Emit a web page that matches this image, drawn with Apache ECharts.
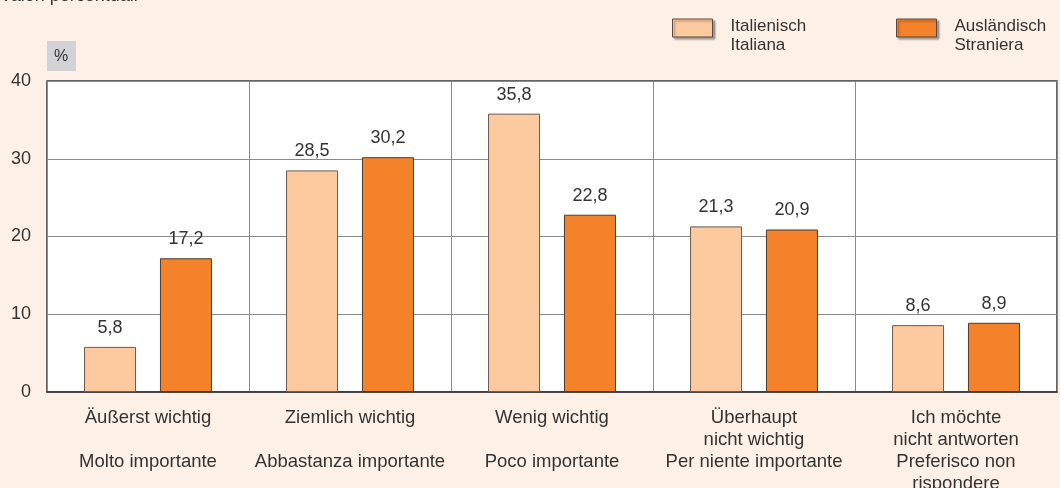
<!DOCTYPE html>
<html>
<head>
<meta charset="utf-8">
<script src="https://cdn.jsdelivr.net/npm/echarts@6/dist/echarts.min.js"></script>
<style>
  html, body { margin: 0; padding: 0; background: #fdf0e6; }
  #chart { width: 1060px; height: 488px; }
</style>
</head>
<body>
<div id="chart"></div>
<script>
// categories (German / Italian)
const categories = [
  'Äußerst wichtig\n\nMolto importante',
  'Ziemlich wichtig\n\nAbbastanza importante',
  'Wenig wichtig\n\nPoco importante',
  'Überhaupt\nnicht wichtig\nPer niente importante',
  'Ich möchte\nnicht antworten\nPreferisco non\nrispondere'
];
const italianValues = [5.8, 28.5, 35.8, 21.3, 8.6];
const foreignValues = [17.2, 30.2, 22.8, 20.9, 8.9];
const seriesNames = ['Italienisch\nItaliana', 'Ausländisch\nStraniera'];
const yTicks = { min: 0, max: 40, interval: 10 };

const FONT = 'Liberation Sans, Arial, sans-serif';
const TXT = '#333333';

const chart = echarts.init(document.getElementById('chart'));

const fmt = p => String(p.value).replace('.', ',');

function legendAt(left, name) {
  return {
    left: left,
    top: 4,
    padding: 0,
    data: [name],
    itemWidth: 40,
    itemHeight: 18,
    itemGap: 0,
    icon: 'rect',
    selectedMode: false,
    itemStyle: {
      borderColor: '#5a4a40',
      borderWidth: 1,
      shadowColor: 'rgba(0,0,0,0.35)',
      shadowBlur: 2,
      shadowOffsetX: 2,
      shadowOffsetY: 2
    },
    // blank first line pushes the two text lines below the swatch centre
    formatter: n => '{s| }\n' + n.split('\n').map(l => '{t|' + l + '}').join('\n'),
    textStyle: {
      fontFamily: FONT,
      color: TXT,
      padding: [0, 0, 0, 13],
      rich: {
        s: { fontSize: 10, lineHeight: 15 },
        t: { fontSize: 17, lineHeight: 19, color: TXT, fontFamily: FONT }
      }
    }
  };
}

chart.setOption({
  backgroundColor: '#fdf0e6',
  animation: false,
  textStyle: { fontFamily: FONT },
  legend: [legendAt(672, seriesNames[0]), legendAt(896, seriesNames[1])],
  graphic: [
    {
      type: 'text',
      left: 0,
      top: -13,
      style: { text: 'Valori percentuali', font: '18px ' + FONT, fill: TXT }
    },
    {
      type: 'rect',
      left: 47,
      top: 41,
      shape: { width: 29, height: 30 },
      style: { fill: '#d3d3d5' }
    },
    {
      type: 'text',
      left: 54,
      top: 49,
      style: { text: '%', font: '16px ' + FONT, fill: TXT }
    }
  ],
  grid: {
    left: 47,
    right: 3,
    top: 81,
    bottom: 96,
    outerBoundsMode: 'none',
    containLabel: false,
    show: true,
    backgroundColor: '#ffffff',
    borderColor: '#333333',
    borderWidth: 1.5
  },
  xAxis: {
    type: 'category',
    data: categories,
    axisTick: { show: false },
    axisLine: { lineStyle: { color: '#333333', width: 1.5 } },
    splitLine: { show: true, lineStyle: { color: '#8a8a8a', width: 1 } },
    axisLabel: {
      interval: 0,
      margin: 15,
      fontSize: 18.5,
      lineHeight: 22,
      color: TXT,
      fontFamily: FONT,
      verticalAlign: 'top'
    }
  },
  yAxis: {
    type: 'value',
    min: yTicks.min,
    max: yTicks.max,
    interval: yTicks.interval,
    axisLine: { show: false },
    axisTick: { show: false },
    splitLine: { lineStyle: { color: '#8a8a8a', width: 1 } },
    axisLabel: { fontSize: 18, color: TXT, fontFamily: FONT, margin: 16 }
  },
  series: [
    {
      name: seriesNames[0],
      type: 'bar',
      data: italianValues,
      barWidth: 52,
      barGap: '46%',
      itemStyle: { color: '#fdc99e', borderColor: '#6a5a50', borderWidth: 1 },
      label: {
        show: true, position: 'top', distance: 10, formatter: fmt,
        fontSize: 18, color: TXT, fontFamily: FONT
      }
    },
    {
      name: seriesNames[1],
      type: 'bar',
      data: foreignValues,
      barWidth: 52,
      itemStyle: { color: '#f4822a', borderColor: '#4a3a30', borderWidth: 1 },
      label: {
        show: true, position: 'top', distance: 10, formatter: fmt,
        fontSize: 18, color: TXT, fontFamily: FONT
      }
    }
  ]
});
</script>
</body>
</html>
